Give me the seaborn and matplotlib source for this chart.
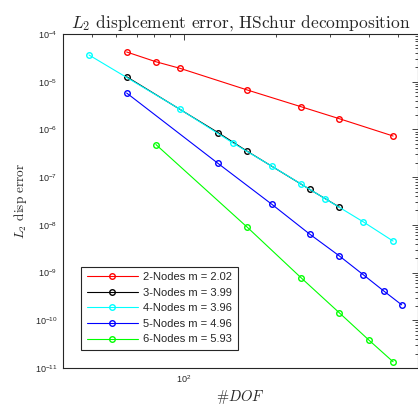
import numpy as np
import pandas as pd
import matplotlib
matplotlib.use("Agg")
import matplotlib.pyplot as plt
import seaborn as sns

# ---- data ----
dof_2 = [65, 81, 97, 161, 241, 321, 481]
err_2 = [4.2e-5, 2.62e-5, 1.91e-5, 6.7e-6, 2.99e-6, 1.68e-6, 7.28e-7]

dof_3 = [65, 129, 161, 257, 321]
err_3 = [1.27e-5, 8.61e-7, 3.47e-7, 5.55e-8, 2.36e-8]

dof_4 = [49, 97, 145, 193, 241, 289, 385, 481]
err_4 = [3.63e-5, 2.65e-6, 5.11e-7, 1.71e-7, 7.17e-8, 3.52e-8, 1.15e-8, 4.57e-9]

dof_5 = [65, 129, 193, 257, 321, 385, 449, 513]
err_5 = [5.8e-6, 1.95e-7, 2.73e-8, 6.41e-9, 2.24e-9, 8.95e-10, 4.09e-10, 2.11e-10]

dof_6 = [81, 161, 241, 321, 401, 481]
err_6 = [4.82e-7, 8.87e-9, 7.78e-10, 1.44e-10, 3.85e-11, 1.35e-11]

labels = ["2-Nodes m = 2.02", "3-Nodes m = 3.99", "4-Nodes m = 3.96",
          "5-Nodes m = 4.96", "6-Nodes m = 5.93"]
colors = ["#ff0000", "#000000", "#00ffff", "#0000ff", "#00ff00"]

title = r"$L_2$ displcement error, HSchur decomposition"
ylabel = r"$L_2$ disp error"
xlabel = r"#$DOF$"

series = [(dof_2, err_2), (dof_3, err_3), (dof_4, err_4), (dof_5, err_5), (dof_6, err_6)]
frames = []
for lab, (d, e) in zip(labels, series):
    frames.append(pd.DataFrame({"dof": d, "err": e, "series": lab}))
df = pd.concat(frames, ignore_index=True)

sns.set_style("white")
plt.rcParams["mathtext.fontset"] = "cm"
plt.rcParams["font.family"] = ["Liberation Sans", "DejaVu Sans"]

fig = plt.figure(figsize=(4.18, 4.08), dpi=100)
ax = fig.add_axes([63 / 418, 1 - 368 / 408, 355 / 418, 334 / 408])

for lab, col in zip(labels, colors):
    sub = df[df["series"] == lab]
    sns.lineplot(data=sub, x="dof", y="err", ax=ax, color=col, marker="o",
                 markersize=4, markerfacecolor="none", markeredgecolor=col,
                 markeredgewidth=1.0, linewidth=0.8, label=lab, sort=False)

ax.set_xscale("log")
ax.set_yscale("log")
ax.set_xlim(40.3, 580)
ax.set_ylim(1e-11, 1e-4)

ax.set_yticks([10.0 ** k for k in range(-11, -3)])
ax.set_xticks([100])
ax.xaxis.set_minor_locator(matplotlib.ticker.LogLocator(base=10, subs=np.arange(2, 10), numticks=20))
ax.yaxis.set_minor_locator(matplotlib.ticker.LogLocator(base=10, subs=np.arange(2, 10), numticks=40))
ax.xaxis.set_minor_formatter(matplotlib.ticker.NullFormatter())
ax.yaxis.set_minor_formatter(matplotlib.ticker.NullFormatter())

ax.tick_params(which="both", direction="in", top=True, right=True, colors="#262626",
               labelsize=6.5, width=0.6)
ax.tick_params(which="major", length=4, pad=4)
ax.tick_params(which="minor", length=2)
for sp in ax.spines.values():
    sp.set_color("#262626")
    sp.set_linewidth(0.8)

ax.set_title(title, fontfamily="cmr10", fontsize=12.5, pad=5)
ax.set_ylabel(ylabel, fontfamily="cmr10", fontsize=9.5, labelpad=4)
ax.set_xlabel(xlabel, fontfamily="cmr10", fontsize=10.5, labelpad=2)

leg = ax.legend(loc="lower left", bbox_to_anchor=(18 / 355, 18 / 334), borderaxespad=0,
                fancybox=False, edgecolor="#262626", fontsize=8, handlelength=4.6,
                handletextpad=0.5, labelspacing=0.5, borderpad=0.5, framealpha=1)
leg.get_frame().set_linewidth(0.8)

fig.savefig("out.png", dpi=100)
